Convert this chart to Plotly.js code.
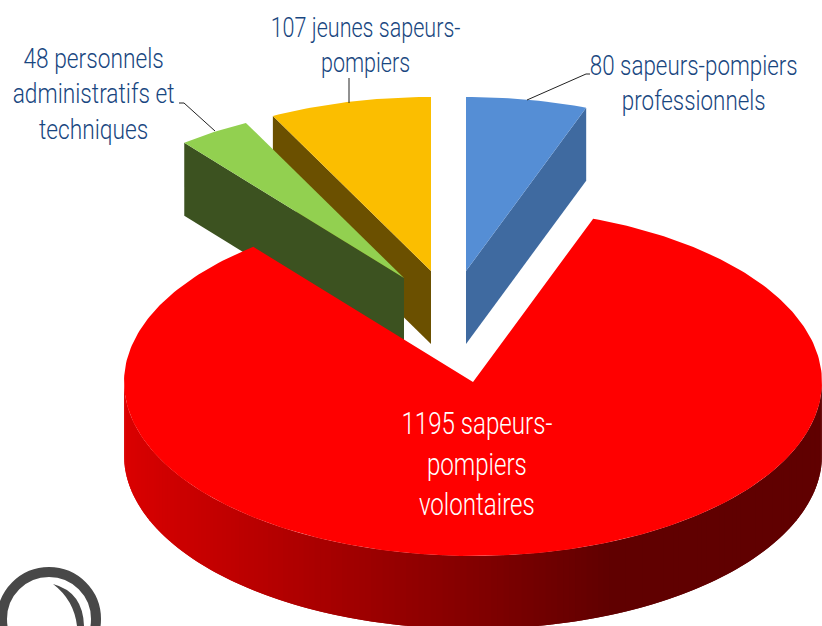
<!DOCTYPE html>
<html><head><meta charset="utf-8">
<script src="https://cdn.plot.ly/plotly-3.0.1.min.js"></script>
<style>html,body{margin:0;padding:0;background:#fff;overflow:hidden}#c{width:822px;height:626px}</style>
</head><body><div id="c"></div>
<script>
const names=["sapeurs-pompiers professionnels","sapeurs-pompiers volontaires","personnels administratifs et techniques","jeunes sapeurs-pompiers"];
const values=[80,1195,48,107];
const topColors=["#558ED5","#FF0000","#92D050","#FBBE00"];
const wallColors=["#3F6AA0",null,"#3C5220","#6B5000"];
const labelLines=[
 "80 sapeurs-pompiers<br>professionnels",
 "1195 sapeurs-<br>pompiers<br>volontaires",
 "48 personnels<br>administratifs et<br>techniques",
 "107 jeunes sapeurs-<br>pompiers"];

// projection of the tilted pie in the picture
const RX=349,RY=174,DEPTH=73;
const centers=[[466,271],[473,382],[404,278],[431,271]];
const labelPos=[[694,83],[477,463],[93,94],[365,45]];
const labelSize=[26,30,26,26];
const labelWidth=[208,151,162,190];
const labelColor="#184680";

const total=values.reduce((a,b)=>a+b,0);
let acc=0;
const spans=values.map(v=>{const s=acc;acc+=v/total*360;return [s,acc];});
const rad=d=>d*Math.PI/180;
const pt=(c,a,dz)=>[c[0]+RX*Math.sin(rad(a)),c[1]-RY*Math.cos(rad(a))+(dz||0)];
function poly(pts,color,lw){
  pts=pts.concat([pts[0]]);
  return {type:"scatter",mode:"lines",x:pts.map(p=>p[0]),y:pts.map(p=>p[1]),fill:"toself",
    fillcolor:color,line:{color:color,width:lw===undefined?0.6:lw},hoverinfo:"skip",showlegend:false};
}
function sector(i){
  const [a,b]=spans[i],c=centers[i],pts=[c];
  for(let t=a;t<b;t+=1)pts.push(pt(c,t));
  pts.push(pt(c,b));
  return poly(pts,topColors[i],0);
}
function radialWall(i,angle){
  const c=centers[i],e=pt(c,angle);
  return poly([c,e,[e[0],e[1]+DEPTH],[c[0],c[1]+DEPTH]],wallColors[i],0);
}
function redShade(x){
  const t=Math.min(1,Math.max(0,(x-124)/(610-124)));
  const r=Math.round(218+(96-218)*t);
  return "rgb("+r+",0,0)";
}
const traces=[];
traces.push(radialWall(3,spans[3][0]));
traces.push(sector(3));
traces.push(radialWall(2,spans[2][0]));
traces.push(sector(2));
traces.push(radialWall(0,spans[0][1]));
traces.push(sector(0));
// red wall, outer rim facing the viewer, strip by strip; each strip overlaps the next one
for(let a=90;a<270;a+=1){
  const p=pt(centers[1],a),q=pt(centers[1],Math.min(270,a+2)),m=pt(centers[1],a+0.5);
  traces.push(poly([p,q,[q[0],q[1]+DEPTH],[p[0],p[1]+DEPTH]],redShade(m[0]),0));
}
traces.push(sector(1));

function leader(xs,ys){return {type:"scatter",mode:"lines",x:xs,y:ys,line:{color:"#222222",width:1},hoverinfo:"skip",showlegend:false};}
traces.push(leader([527,586,590],[100,74,74]));
traces.push(leader([349,349],[103,78]));
traces.push(leader([215,184,179],[131,103,103]));

const annotations=labelLines.map((t,i)=>({x:labelPos[i][0],y:labelPos[i][1],xref:"x",yref:"y",text:t,showarrow:false,
  align:"center",xanchor:"center",yanchor:"middle",
  font:{family:"Roboto,sans-serif",weight:300,size:labelSize[i],color:i===1?"#FFFFFF":labelColor}}));

const shapes=[
 {type:"circle",xref:"x",yref:"y",x0:2,x1:96,y0:572,y1:666,line:{color:"#484848",width:10},fillcolor:"rgba(0,0,0,0)"},
 {type:"path",xref:"x",yref:"y",path:"M53,584 Q83,592 84,626 L77,626 Q74,600 53,584 Z",fillcolor:"#484848",line:{width:0}}
];

Plotly.newPlot("c",traces,{
  width:822,height:626,margin:{l:0,r:0,t:0,b:0},paper_bgcolor:"#fff",plot_bgcolor:"#fff",showlegend:false,
  xaxis:{range:[0,822],visible:false,fixedrange:true},
  yaxis:{range:[626,0],visible:false,fixedrange:true},
  annotations:annotations,shapes:shapes,hovermode:false
},{displayModeBar:false,staticPlot:true}).then(()=>{
  // the reference face is a narrow, tall one: condense each label to its measured width
  document.querySelectorAll(".annotation-text").forEach((el,idx)=>{
    const i=labelLines.findIndex(t=>t.replace(/<br>/g,"").startsWith((el.textContent||"").slice(0,4)));
    const bb=el.getBBox(),cx=bb.x+bb.width/2,cy=bb.y+bb.height/2,k=labelWidth[i<0?idx:i]/bb.width;
    el.setAttribute("transform","translate("+cx+","+cy+") scale("+k+",1.05) translate("+(-cx)+","+(-cy)+")");
  });
});
</script></body></html>
